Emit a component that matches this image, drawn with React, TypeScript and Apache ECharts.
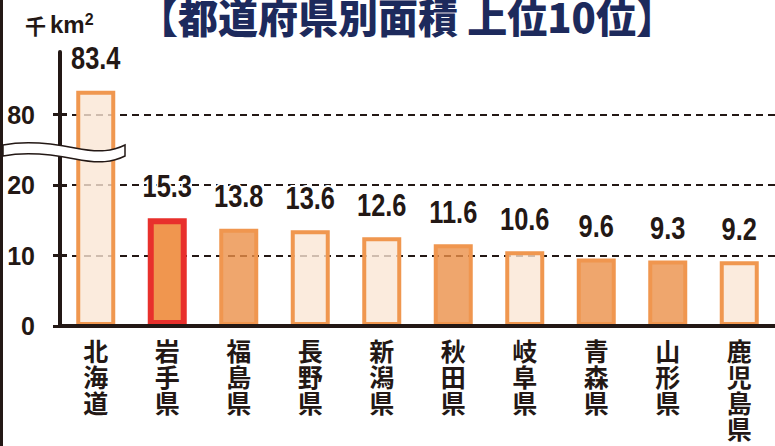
import React, { useEffect, useRef } from 'react';
import * as echarts from 'echarts';

const prefectures = ['北海道', '岩手県', '福島県', '長野県', '新潟県', '秋田県', '岐阜県', '青森県', '山形県', '鹿児島県'];
const areas = [83.4, 15.3, 13.8, 13.6, 12.6, 11.6, 10.6, 9.6, 9.3, 9.2];
const tohoku = ['岩手県', '福島県', '秋田県', '青森県', '山形県'];
const highlighted = '岩手県';
const yTickLabels = [0, 10, 20, 80];
const titleText = '【都道府県別面積 上位10位】';
const unitPrefix = '千';
const unitText = 'km';
const unitSup = '2';

// axis break: values between BREAK_FROM and BREAK_TO are cut out of the axis
const BREAK_FROM = 25;
const BREAK_TO = 75;
const toAxis = (v: number) => (v > BREAK_TO ? v - (BREAK_TO - BREAK_FROM) : v);
const fromAxis = (a: number) => (a > BREAK_FROM ? a + (BREAK_TO - BREAK_FROM) : a);

const INK = '#231815';
const NAVY = '#1d2a5c';
const SANS = "'Liberation Sans', Arial, sans-serif";
const CJK = "'Noto Sans CJK JP', 'Noto Sans CJK SC', sans-serif";

const WAVE_D = 'M3,145 C25,141 50,143 75,148 C100,153 113,151 125,145 L125,156 C113,162 100,164 75,159 C50,154 25,152 3,156 Z';
echarts.graphic.registerShape('axisBreak', echarts.graphic.extendPath(WAVE_D, {}));

export default function App() {
  const ref = useRef<HTMLDivElement>(null);
  useEffect(() => {
    if (!ref.current) return;
    const chart = echarts.init(ref.current, undefined, { renderer: 'svg' });
    const tickValues = yTickLabels.map(toAxis);
    const yMax = 38.9;
    const tickStyle = { color: INK, width: 3 };
    const option: any = {
      animation: false,
      backgroundColor: '#ffffff',
      grid: { left: 60, right: -5, top: 52, bottom: 120, containLabel: false },
      xAxis: {
        type: 'category',
        data: prefectures,
        z: 5,
        axisLine: { show: true, lineStyle: { color: INK, width: 4 } },
        axisTick: { show: false },
        axisLabel: {
          interval: 0,
          margin: 11,
          formatter: (s: string) => s.split('').join('\n'),
          fontFamily: CJK,
          fontWeight: 'bold',
          fontSize: 25,
          lineHeight: 26,
          color: INK,
        },
      },
      yAxis: [
        {
          type: 'value',
          position: 'left',
          min: 0,
          max: yMax,
          interval: 10,
          axisLine: { show: true, lineStyle: { color: INK, width: 4 } },
          axisTick: { show: true, length: 7, lineStyle: tickStyle, customValues: tickValues },
          axisLabel: {
            customValues: tickValues,
            formatter: (v: number) => String(fromAxis(v)),
            margin: 25,
            fontFamily: SANS,
            fontWeight: 'bold',
            fontSize: 25,
            color: INK,
          },
          splitLine: {
            show: true,
            showMinLine: false,
            showMaxLine: true,
            lineStyle: { color: INK, width: 2, type: [7, 5] },
          },
        },
        {
          type: 'value',
          position: 'left',
          min: 0,
          max: yMax,
          interval: 10,
          axisLine: { show: false },
          axisTick: { show: true, inside: true, length: 7, lineStyle: tickStyle, customValues: tickValues },
          axisLabel: { show: false },
          splitLine: { show: false },
        },
      ],
      series: [
        {
          type: 'bar',
          yAxisIndex: 0,
          barWidth: 39,
          data: areas.map((v, i) => {
            const name = prefectures[i];
            const itemStyle =
              name === highlighted
                ? { color: '#F0964F', borderColor: '#E8302C', borderWidth: 6 }
                : tohoku.includes(name)
                ? { color: 'rgba(235,144,73,0.8)', borderColor: '#F0964F', borderWidth: 4 }
                : { color: 'rgba(250,230,213,0.8)', borderColor: '#F0974F', borderWidth: 4 };
            return { value: toAxis(v), itemStyle };
          }),
        },
        {
          // value labels, condensed like the reference
          type: 'custom',
          yAxisIndex: 0,
          z: 10,
          data: areas.map((v, i) => [i, toAxis(v), v]),
          renderItem: (params: any, api: any) => {
            const pt = api.coord([api.value(0), api.value(1)]);
            return {
              type: 'text',
              x: pt[0],
              y: pt[1] - 17,
              scaleX: 0.82,
              style: {
                text: Number(api.value(2)).toFixed(1),
                fill: INK,
                fontFamily: SANS,
                fontWeight: 'bold',
                fontSize: 31,
                align: 'center',
                verticalAlign: 'bottom',
                stroke: '#ffffff',
                lineWidth: 4,
                strokeFirst: true,
              },
            };
          },
        },
      ],
      graphic: [
        { type: 'rect', x: 0, y: 0, shape: { width: 3, height: 446 }, style: { fill: INK }, z: 100 },
        {
          type: 'axisBreak',
          x: 0,
          y: 0,
          style: { fill: '#ffffff', stroke: INK, lineWidth: 1.5 },
          z: 100,
        },
        {
          type: 'text',
          x: 138,
          y: -4,
          style: { text: titleText, fill: NAVY, fontFamily: CJK, fontWeight: 900, fontSize: 40, verticalAlign: 'top', align: 'left' },
          z: 100,
        },
        {
          type: 'text',
          x: 25,
          y: 11,
          style: {
            text: '{c|' + unitPrefix + '}{a|' + unitText + '}{s|' + unitSup + '}',
            fill: INK,
            verticalAlign: 'top',
            align: 'left',
            rich: {
              c: { fontFamily: CJK, fontWeight: 'bold', fontSize: 21, lineHeight: 27, color: INK },
              a: { fontFamily: SANS, fontWeight: 'bold', fontSize: 24, lineHeight: 27, padding: [0, 0, 0, 4], color: INK },
              s: { fontFamily: SANS, fontWeight: 'bold', fontSize: 16, lineHeight: 27, verticalAlign: 'top', color: INK },
            },
          },
          z: 100,
        },
      ],
    };
    chart.setOption(option);
    return () => chart.dispose();
  }, []);
  return <div ref={ref} style={{ position: 'absolute', left: 0, top: 0, width: 775, height: 446 }} />;
}
